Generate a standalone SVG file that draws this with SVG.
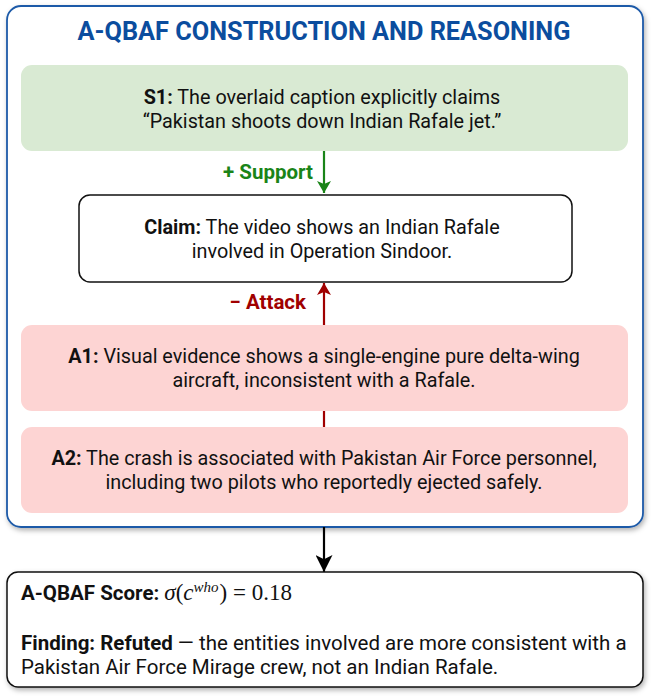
<svg xmlns="http://www.w3.org/2000/svg" width="655" height="700" viewBox="0 0 655 700">
<defs>
<filter id="sh" x="-5%" y="-5%" width="110%" height="115%">
<feDropShadow dx="1.5" dy="2.5" stdDeviation="2.5" flood-color="#000" flood-opacity="0.3"/>
</filter>
<marker id="mg" viewBox="0 0 12 14" refX="12" refY="7" markerWidth="14" markerHeight="14" markerUnits="userSpaceOnUse" orient="auto"><path d="M0,0 L12,7 L0,14 L3,7 z" fill="#1a8418"/></marker>
<marker id="mr" viewBox="0 0 12 14" refX="12" refY="7" markerWidth="14" markerHeight="14" markerUnits="userSpaceOnUse" orient="auto"><path d="M0,0 L12,7 L0,14 L3,7 z" fill="#a00000"/></marker>
<marker id="mk" viewBox="0 0 16 16" refX="16" refY="8" markerWidth="19" markerHeight="17" markerUnits="userSpaceOnUse" orient="auto"><path d="M0,0 L16,8 L0,16 L4,8 z" fill="#000"/></marker>
</defs>
<style>
text{font-family:Roboto,"Liberation Sans",sans-serif;font-size:19.8px;fill:#111;}
.c{text-anchor:middle;}
.b{font-weight:bold;}
.title{font-size:25.3px;font-weight:bold;fill:#0b4d9e;text-anchor:middle;}
.lbl{font-size:20.5px;font-weight:bold;text-anchor:end;}
.r text{font-size:20.5px;}
.math{font-family:"Liberation Serif","DejaVu Serif",serif;font-size:23px;}
.sup{font-family:"Liberation Serif","DejaVu Serif",serif;font-size:15px;font-style:italic;}
</style>
<g id="container">
<rect x="7" y="6" width="636" height="521" rx="14" fill="#fff" stroke="#1d5aa8" stroke-width="1.8" filter="url(#sh)"/>
<text class="title" x="324" y="40">A-QBAF CONSTRUCTION AND REASONING</text>
</g>
<g id="connectors">
<line x1="324" y1="151" x2="324" y2="193" stroke="#1a8418" stroke-width="2.2" marker-end="url(#mg)"/>
<text class="lbl" x="313" y="179" style="fill:#1a8418">+ Support</text>
<line x1="324" y1="325" x2="324" y2="283" stroke="#a00000" stroke-width="2.2" marker-end="url(#mr)"/>
<text class="lbl" x="306" y="309" style="fill:#a00000">− Attack</text>
<line x1="324" y1="411" x2="324" y2="427" stroke="#a00000" stroke-width="2.2"/>
<line x1="324" y1="527" x2="324" y2="572" stroke="#000" stroke-width="2.2" marker-end="url(#mk)"/>
</g>
<g id="S1">
<rect x="21" y="65" width="607" height="86" rx="11" fill="#d9ead3"/>
<text class="c" x="322" y="104"><tspan class="b">S1:</tspan> The overlaid caption explicitly claims</text>
<text class="c" x="322" y="128">“Pakistan shoots down Indian Rafale jet.”</text>
</g>
<g id="claim">
<rect x="79" y="195" width="493" height="87" rx="11" fill="#fff" stroke="#111" stroke-width="1.5"/>
<text class="c" x="322" y="234"><tspan class="b">Claim:</tspan> The video shows an Indian Rafale</text>
<text class="c" x="322" y="258">involved in Operation Sindoor.</text>
</g>
<g id="A1">
<rect x="21" y="325" width="607" height="86" rx="11" fill="#fdd4d3"/>
<text class="c" x="324" y="363"><tspan class="b">A1:</tspan> Visual evidence shows a single-engine pure delta-wing</text>
<text class="c" x="324" y="387">aircraft, inconsistent with a Rafale.</text>
</g>
<g id="A2">
<rect x="21" y="427" width="607" height="86" rx="11" fill="#fdd4d3"/>
<text class="c" x="324" y="465"><tspan class="b">A2:</tspan> The crash is associated with Pakistan Air Force personnel,</text>
<text class="c" x="324" y="489">including two pilots who reportedly ejected safely.</text>
</g>
<g id="result" class="r">
<rect x="7" y="572" width="636" height="115" rx="11" fill="#fff" stroke="#111" stroke-width="1.5" filter="url(#sh)"/>
<text x="21" y="600"><tspan class="b">A-QBAF Score:</tspan> <tspan class="math" font-style="italic">σ</tspan><tspan class="math">(</tspan><tspan class="math" font-style="italic">c</tspan><tspan class="sup" dy="-8">who</tspan><tspan class="math" dx="1" dy="8">)  =  0.18</tspan></text>
<text x="21" y="650"><tspan class="b">Finding: Refuted</tspan> — the entities involved are more consistent with a</text>
<text x="21" y="674">Pakistan Air Force Mirage crew, not an Indian Rafale.</text>
</g>
</svg>
